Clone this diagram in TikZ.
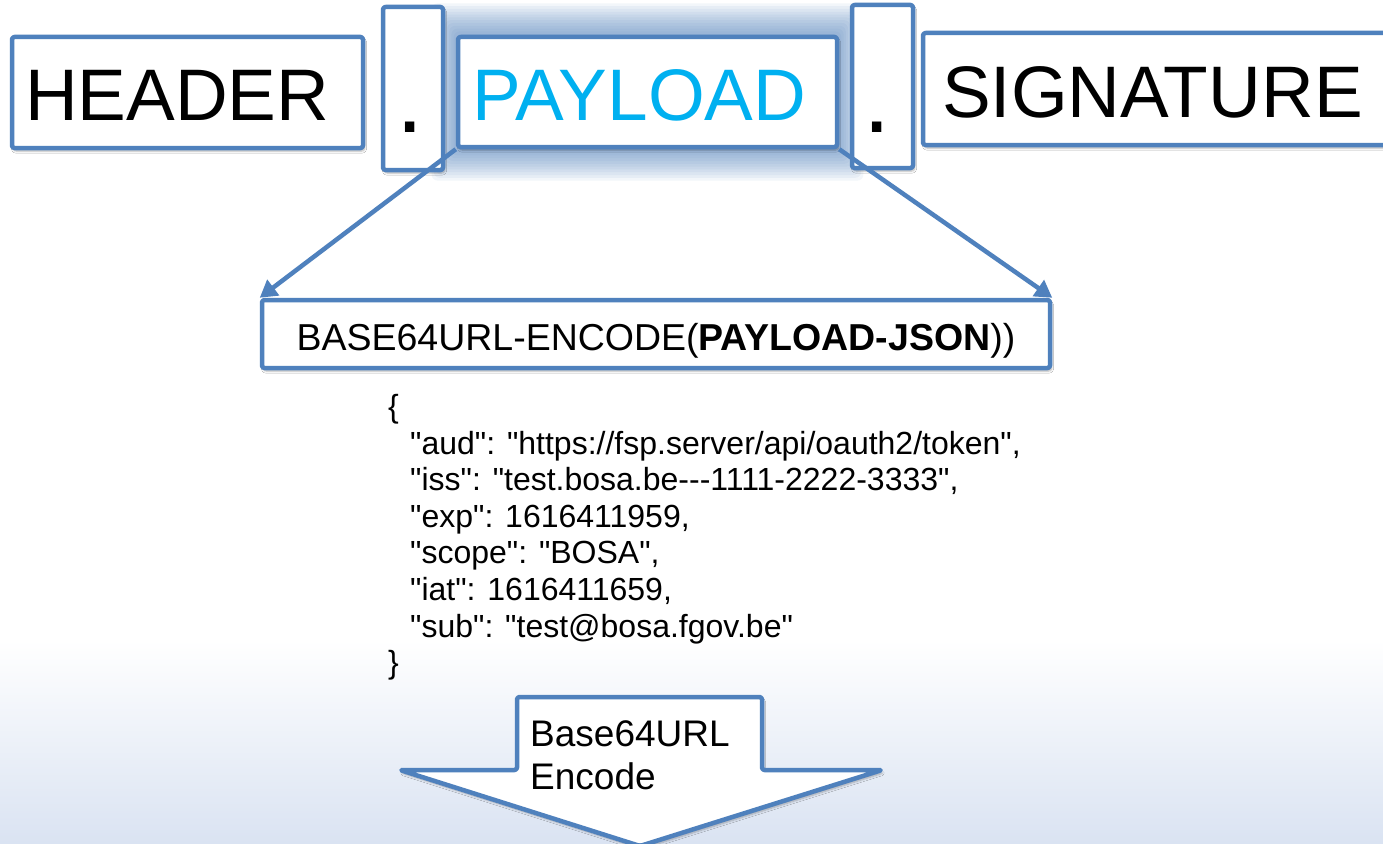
\documentclass[tikz,border=0pt]{standalone}
\usepackage{fontspec}
\setmainfont{Liberation Sans}[Ligatures=TeXOff]
\usetikzlibrary{arrows.meta,calc,shadows.blur}
\definecolor{frame}{HTML}{4F81BD}
\definecolor{sky}{HTML}{00B0F0}
\definecolor{tint}{HTML}{DAE3F2}

\begin{document}
\begin{tikzpicture}[x=1pt,y=-1pt,
  box/.style={draw=frame, line width=4.5pt, fill=white, rounded corners=2.5pt,
    inner sep=0pt, line join=round,
    blur shadow={shadow xshift=1.5pt, shadow yshift=-3pt, shadow blur steps=6, shadow opacity=30}},
  big/.style={font=\fontsize{73}{80}\selectfont, inner sep=0pt, anchor=base west},
  dotmark/.style={font=\fontsize{98}{110}\selectfont, inner sep=0pt, anchor=base},
  mid/.style={font=\fontsize{37}{44}\selectfont, inner sep=0pt},
  json/.style={font=\fontsize{32}{37}\selectfont, inner sep=0pt, anchor=base west},
  link/.style={draw=frame, line width=4.5pt, -{Triangle[length=17pt,width=19pt]}},
]
% canvas and clipping
\path[use as bounding box] (0,0) rectangle (1383,843);
\clip (0,0) rectangle (1383,843);
\fill[white] (0,0) rectangle (1383,843);
\shade[top color=white, bottom color=tint] (0,640) rectangle (1383,843);

% token parts
\node[box, minimum width=351pt, minimum height=111pt] (header) at (187.5,92.5) {};
\node[big] (headertext) at (25,120) {HEADER};

% glow behind the payload part
\coordinate (gsw) at (458,147);
\coordinate (gne) at (837,37);
\foreach \g in {1,...,12}
  \fill[frame, opacity=0.07, rounded corners=6pt]
    ($(gsw)+(-\g*2.2,\g*2.8)$) rectangle ($(gne)+(\g*2.2,-\g*2.8)$);

\node[box, minimum width=379pt, minimum height=110pt] (payload) at (647.5,92) {};
\node[big, text=sky] (payloadtext) at (472,120) {PAYLOAD};

\node[box, minimum width=60pt, minimum height=163pt] (dotA) at (413,88.5) {};
\node[dotmark] (dotAtext) at (410,132) {.};
\node[box, minimum width=61pt, minimum height=163pt] (dotB) at (882.5,86.5) {};
\node[dotmark] (dotBtext) at (877,132) {.};

\node[box, minimum width=480pt, minimum height=112pt] (signature) at (1163,89) {};
\node[big] (signaturetext) at (942,117) {SIGNATURE};

% encoding box
\node[box, minimum width=788pt, minimum height=68pt] (encbox) at (656,334) {};
\node[mid, anchor=base, font=\fontsize{37.5}{44}\selectfont] (enctext) at (656,350) {BASE64URL-ENCODE(\textbf{PAYLOAD-JSON}))};

\draw[link] (payload.south west) -- (encbox.north west);
\draw[link] (payload.south east) -- (encbox.north east);

% payload claims
\node[json] (j0) at (388,417.4) {\{};
\node[json] (j1) at (410,454.0) {"aud": "https://fsp.server/api/oauth2/token",};
\node[json] (j2) at (410,490.6) {"iss": "test.bosa.be---1111-2222-3333",};
\node[json] (j3) at (410,527.2) {"exp": 1616411959,};
\node[json] (j4) at (410,563.8) {"scope": "BOSA",};
\node[json] (j5) at (410,600.4) {"iat": 1616411659,};
\node[json] (j6) at (410,637.0) {"sub": "test@bosa.fgov.be"};
\node[json] (j7) at (388,673.6) {\}};

% block arrow
\draw[box] (517,697) -- (762,697) -- (762,770) -- (882,770) -- (640,846)
  -- (400,770) -- (517,770) -- cycle;
\node[mid, anchor=base west] (arrowtextA) at (530,746) {Base64URL};
\node[mid, anchor=base west] (arrowtextB) at (530,789) {Encode};
\end{tikzpicture}
\end{document}
